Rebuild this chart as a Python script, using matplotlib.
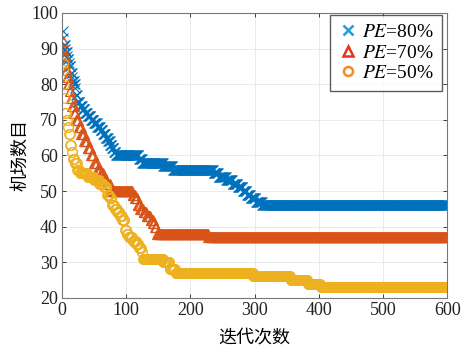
import matplotlib.pyplot as plt
import numpy as np
from matplotlib.lines import Line2D

plt.rcParams['font.family'] = ['Liberation Serif', 'Noto Sans CJK SC']
plt.rcParams['mathtext.fontset'] = 'stix'

# step curves: iteration where each level starts, and the level
pe80_start = [1, 2, 3, 5, 6, 8, 9, 11, 12, 14, 16, 17, 19, 21, 22, 24, 28, 32, 36, 40,
              45, 50, 55, 60, 64, 68, 72, 75, 78, 81, 84, 120, 125, 158, 173,
              236, 244, 256, 266, 274, 282, 288, 294, 302, 312]
pe80_val = [95, 93, 91, 90, 89, 88, 87, 86, 85, 83, 82, 81, 80, 79, 77, 75, 74, 73, 72, 71,
            70, 69, 68, 67, 66, 65, 64, 63, 62, 61, 60, 59, 58, 57, 56,
            55, 54, 53, 52, 51, 50, 49, 48, 47, 46]

pe70_start = [1, 2, 3, 5, 6, 8, 10, 12, 14, 16, 19, 22, 26, 30, 35, 40, 45, 50, 55, 60,
              65, 70, 75, 110, 114, 118, 122, 127, 132, 138, 142, 145, 148, 228]
pe70_val = [92, 90, 88, 86, 84, 82, 80, 78, 76, 74, 72, 70, 68, 66, 64, 62, 60, 58, 56, 55,
            53, 52, 50, 49, 48, 46, 45, 44, 43, 42, 41, 40, 38, 37]

pe50_start = [1, 2, 3, 4, 5, 7, 9, 11, 13, 15, 17, 20, 24, 28, 40, 50, 58, 65, 70, 74,
              78, 82, 86, 90, 94, 98, 101, 104, 110, 116, 120, 124, 126, 158, 168,
              177, 298, 356, 383, 403]
pe50_val = [86, 84, 80, 76, 72, 70, 68, 66, 63, 61, 59, 58, 56, 55, 54, 53, 52, 51, 49, 48,
            46, 45, 44, 43, 42, 39, 38, 37, 36, 35, 34, 33, 31, 30, 28,
            27, 26, 25, 24, 23]

iters = np.arange(1, 601)


def expand(starts, vals):
    idx = np.searchsorted(starts, iters, side='right') - 1
    return np.array(vals)[idx]


series = [
    (pe80_start, pe80_val, 'x', '#0072BD', '#1A9FE3', '$PE$=80%'),
    (pe70_start, pe70_val, '^', '#D95319', '#E8341C', '$PE$=70%'),
    (pe50_start, pe50_val, 'o', '#EDB120', '#F28C28', '$PE$=50%'),
]

fig = plt.figure(figsize=(4.68, 3.5), dpi=100)
ax = fig.add_axes([0.1325, 0.149, 0.823, 0.814])

handles = []
for starts, vals, mk, col, legcol, lab in series:
    ax.plot(iters, expand(starts, vals), linestyle='None', marker=mk, color=col,
            markersize=7, markeredgewidth=0.8, fillstyle='none')
    handles.append(Line2D([], [], linestyle='None', marker=mk, color=legcol,
                          markersize=6.5, markeredgewidth=1.8, fillstyle='none', label=lab))

ax.set_xlim(0, 600)
ax.set_ylim(20, 100)
ax.set_xticks(np.arange(0, 601, 100))
ax.set_yticks(np.arange(20, 101, 10))
ax.grid(True, color='#e6e6e6', linewidth=0.6)
ax.set_axisbelow(True)
ax.tick_params(direction='in', top=True, right=True, labelsize=13, colors='#222222',
               length=3, width=0.6, pad=3)
for sp in ax.spines.values():
    sp.set_color('#777777')
    sp.set_linewidth(0.8)

ax.set_xlabel('迭代次数', fontsize=13, family=['Noto Sans CJK SC'], labelpad=7)
ax.set_ylabel('机场数目', fontsize=13, family=['Noto Sans CJK SC'], labelpad=1)

leg = ax.legend(handles=handles, loc='upper right', fontsize=14, frameon=True,
                fancybox=False, edgecolor='#333333', handletextpad=0.2,
                handlelength=1.0, borderpad=0.45, labelspacing=0.15,
                borderaxespad=0.0, bbox_to_anchor=(0.987, 0.994))
leg.get_frame().set_linewidth(1.0)

fig.savefig('out.png', dpi=100)
